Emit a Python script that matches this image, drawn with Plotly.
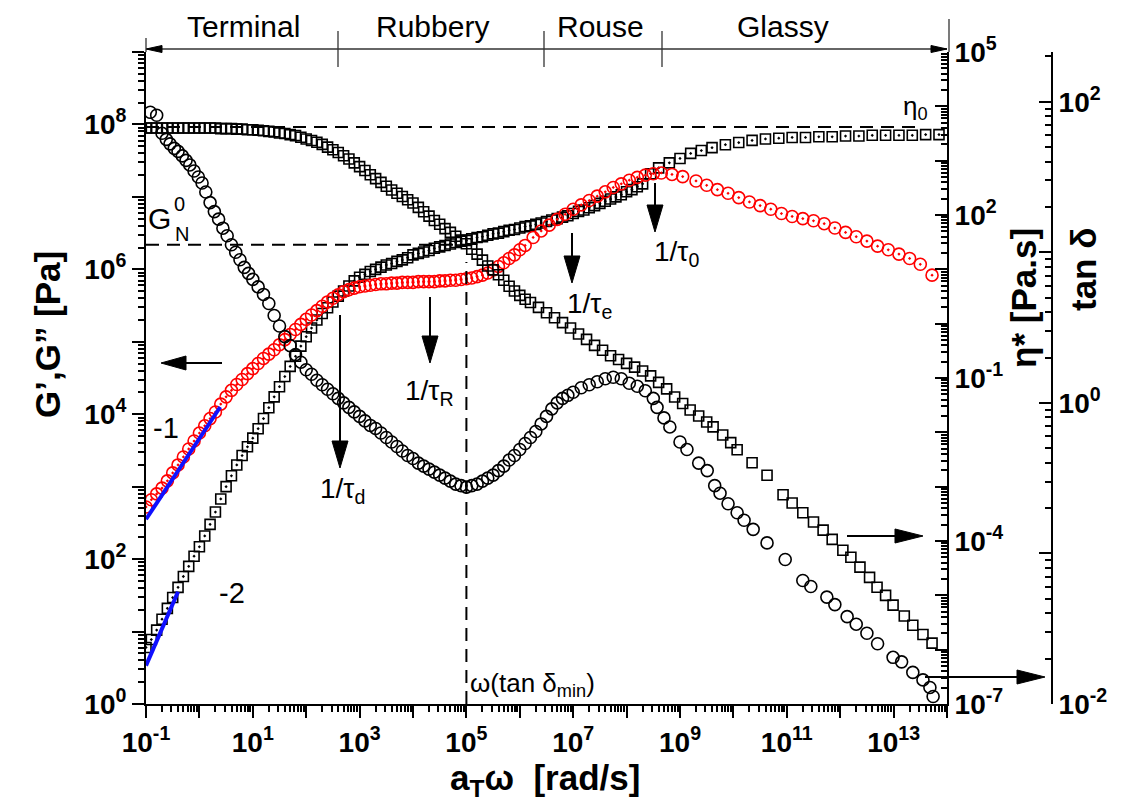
import plotly.graph_objects as go

# ---------------- data (log10 values) ----------------
# G' (storage modulus, open squares with dot) -- left axis
gp_logw = [-1.0,-0.9,-0.8,-0.7,-0.6,-0.5,-0.4,-0.3,-0.2,-0.1,
           0.0,0.1,0.2,0.3,0.4,0.5,0.6,0.7,0.8,0.9,
           1.0,1.1,1.2,1.3,1.4,1.5,1.6,1.7,1.8,1.9,
           2.0,2.1,2.2,2.3,2.4,2.5,2.6,2.7,2.8,2.9,
           3.0,3.1,3.2,3.3,3.4,3.5,3.6,3.7,3.8,3.9,
           4.0,4.1,4.2,4.3,4.4,4.5,4.6,4.7,4.8,4.9,
           5.0,5.1,5.2,5.3,5.4,5.5,5.6,5.7,5.8,5.9,
           6.0,6.1,6.2,6.3,6.4,6.5,6.6,6.7,6.8,6.9,
           7.0,7.1,7.2,7.3,7.4,7.5,7.6,7.7,7.8,7.9,
           8.0,8.1,8.2,8.3,
           8.45,8.6,8.8,9.0,9.2,9.4,9.6,
           9.85,10.1,10.35,10.6,10.85,11.1,11.35,11.6,11.85,12.1,12.35,12.6,12.85,13.1,13.35,13.6,13.85]
gp_logG = [0.78,0.89,1.02,1.17,1.32,1.47,1.61,1.76,1.90,2.04,
           2.17,2.32,2.48,2.65,2.83,3.00,3.15,3.30,3.43,3.55,
           3.67,3.80,3.94,4.09,4.24,4.38,4.52,4.66,4.80,4.94,
           5.07,5.19,5.30,5.39,5.47,5.55,5.63,5.70,5.77,5.84,
           5.89,5.93,5.97,6.00,6.03,6.06,6.08,6.11,6.13,6.16,
           6.20,6.22,6.24,6.26,6.29,6.31,6.33,6.35,6.37,6.39,
           6.40,6.42,6.44,6.45,6.47,6.49,6.50,6.52,6.54,6.55,
           6.57,6.59,6.60,6.62,6.64,6.66,6.68,6.70,6.72,6.74,
           6.77,6.80,6.82,6.85,6.88,6.91,6.94,6.97,7.00,7.03,
           7.07,7.10,7.14,7.18,
           7.32,7.40,7.47,7.53,7.60,7.64,7.68,
           7.72,7.75,7.78,7.80,7.81,7.82,7.82,7.83,7.83,7.84,7.84,7.85,7.85,7.85,7.85,7.86,7.86]

# G'' (loss modulus, red open circles with dot) -- left axis
gpp_logw = [-1.0,-0.9,-0.8,-0.7,-0.6,-0.5,-0.4,-0.3,-0.2,-0.1,
            0.0,0.1,0.2,0.3,0.4,0.5,0.6,0.7,0.8,0.9,
            1.0,1.1,1.2,1.3,1.4,1.5,1.6,1.7,1.8,1.9,
            2.0,2.1,2.2,2.3,2.4,2.5,2.6,2.7,2.8,2.9,
            3.0,3.1,3.2,3.3,3.4,3.5,3.6,3.7,3.8,3.9,
            4.0,4.1,4.2,4.3,4.4,4.5,4.6,4.7,4.8,4.9,
            5.0,5.1,5.2,5.3,5.4,5.5,5.6,5.7,5.8,5.9,
            6.0,6.1,
            6.25,6.4,6.55,6.7,6.85,7.0,7.15,7.3,7.45,7.6,7.75,7.9,8.05,8.2,8.35,8.5,8.65,
            8.85,9.05,9.3,9.5,9.7,9.9,10.1,10.3,10.5,10.7,10.9,11.1,11.3,11.5,11.7,11.9,
            12.1,12.3,12.5,12.7,12.9,13.1,13.3,13.5,13.72]
gpp_logG = [2.72,2.82,2.90,2.98,3.08,3.19,3.30,3.41,3.52,3.63,
            3.74,3.84,3.94,4.03,4.14,4.24,4.33,4.41,4.48,4.56,
            4.63,4.70,4.77,4.83,4.89,4.96,5.03,5.10,5.17,5.24,
            5.31,5.37,5.43,5.49,5.55,5.60,5.65,5.69,5.72,5.74,
            5.76,5.77,5.78,5.79,5.80,5.80,5.81,5.81,5.82,5.82,
            5.82,5.83,5.83,5.83,5.83,5.84,5.84,5.85,5.85,5.86,
            5.87,5.88,5.90,5.92,5.95,5.99,6.04,6.09,6.15,6.20,
            6.27,6.33,
            6.44,6.53,6.61,6.69,6.76,6.83,6.89,6.95,7.01,7.07,7.13,7.18,7.23,7.27,7.30,7.32,7.33,
            7.31,7.28,7.22,7.16,7.10,7.05,6.99,6.93,6.88,6.83,6.77,6.73,6.70,6.67,6.63,6.57,
            6.51,6.45,6.39,6.32,6.27,6.21,6.15,6.07,5.92]

# tan(delta) (black open circles) -- right "tan d" axis
td_logw = [-0.92,-0.80,-0.70,-0.62,-0.55,-0.47,-0.40,-0.32,-0.25,-0.18,-0.10,-0.02,
           0.05,0.12,0.20,0.28,0.36,0.44,0.52,0.60,0.68,0.76,0.84,0.92,
           1.0,1.1,1.2,1.3,1.4,1.5,1.6,1.7,1.8,1.9,
           2.0,2.1,2.2,2.3,2.4,2.5,2.6,2.7,2.8,2.9,
           3.0,3.1,3.2,3.3,3.4,3.5,3.6,3.7,3.8,3.9,
           4.0,4.1,4.2,4.3,4.4,4.5,4.6,4.7,4.8,4.9,
           5.0,5.1,5.2,5.3,5.4,5.5,5.6,5.7,5.8,5.9,
           6.0,6.1,6.2,6.3,6.4,6.5,6.6,6.7,6.8,6.9,
           7.0,7.15,7.3,7.45,7.6,7.75,7.9,8.05,8.2,8.35,8.5,8.57,8.7,8.81,
           9.0,9.13,9.35,9.51,9.65,9.75,9.9,10.07,10.2,10.37,10.63,10.97,
           11.3,11.45,11.75,11.9,12.13,12.3,12.5,12.7,12.99,13.15,13.36,13.55,13.68,13.74]
td_logT = [1.93,1.91,1.79,1.75,1.72,1.69,1.67,1.64,1.61,1.58,1.54,1.50,
           1.46,1.40,1.33,1.27,1.22,1.16,1.11,1.05,1.00,0.95,0.90,0.86,
           0.82,0.77,0.72,0.66,0.58,0.51,0.44,0.38,0.32,0.27,
           0.22,0.19,0.15,0.12,0.09,0.06,0.03,0.00,-0.03,-0.06,
           -0.09,-0.12,-0.15,-0.17,-0.20,-0.23,-0.26,-0.29,-0.32,-0.35,
           -0.37,-0.40,-0.42,-0.44,-0.46,-0.48,-0.50,-0.52,-0.54,-0.55,
           -0.56,-0.55,-0.54,-0.52,-0.50,-0.48,-0.45,-0.42,-0.38,-0.35,
           -0.31,-0.27,-0.23,-0.19,-0.14,-0.09,-0.04,0.00,0.03,0.05,
           0.07,0.10,0.12,0.14,0.16,0.17,0.16,0.13,0.11,0.08,0.03,-0.03,-0.10,-0.16,
           -0.26,-0.31,-0.40,-0.45,-0.55,-0.60,-0.67,-0.73,-0.78,-0.84,-0.93,-1.04,
           -1.18,-1.22,-1.29,-1.34,-1.42,-1.47,-1.53,-1.60,-1.69,-1.72,-1.79,-1.84,-1.89,-1.95]

# complex viscosity eta* (black open squares) -- right "eta*" axis
eta_logw = [-1.0,-0.9,-0.8,-0.7,-0.6,-0.5,-0.4,-0.3,-0.2,-0.1,
            0.0,0.1,0.2,0.3,0.4,0.5,0.6,0.7,0.8,0.9,
            1.0,1.1,1.2,1.3,1.4,1.5,1.6,1.7,1.8,1.9,
            2.0,2.1,2.2,2.3,2.4,2.5,2.6,2.7,2.8,2.9,
            3.0,3.1,3.2,3.3,3.4,3.5,3.6,3.7,3.8,3.9,
            4.0,4.1,4.2,4.3,4.4,4.5,4.6,4.7,4.8,4.9,
            5.0,5.1,5.2,5.3,5.4,5.5,5.6,5.7,5.8,5.9,6.0,6.1,
            6.2,6.35,6.5,6.65,6.8,6.95,7.1,7.25,7.4,7.55,
            7.7,7.85,8.0,8.15,8.3,8.45,8.6,8.75,8.9,9.05,
            9.19,9.35,9.5,9.62,9.8,9.95,10.07,10.35,10.63,10.93,
            11.1,11.3,11.5,11.68,11.85,12.05,12.2,12.37,12.55,12.69,
            12.85,12.99,13.2,13.36,13.55,13.72]
eta_log = [3.60,3.60,3.60,3.60,3.60,3.60,3.60,3.60,3.60,3.60,
           3.60,3.60,3.60,3.60,3.59,3.59,3.59,3.58,3.58,3.57,
           3.57,3.56,3.55,3.54,3.53,3.51,3.50,3.48,3.46,3.43,
           3.40,3.37,3.34,3.30,3.25,3.20,3.15,3.09,3.03,2.96,
           2.89,2.82,2.74,2.67,2.60,2.53,2.46,2.40,2.34,2.28,
           2.22,2.14,2.06,1.98,1.90,1.83,1.75,1.68,1.61,1.54,
           1.47,1.37,1.28,1.17,1.06,0.99,0.90,0.80,0.69,0.60,0.52,0.45,
           0.39,0.30,0.20,0.11,0.02,-0.08,-0.19,-0.29,-0.40,-0.49,
           -0.59,-0.66,-0.73,-0.80,-0.87,-0.96,-1.08,-1.20,-1.35,-1.47,
           -1.59,-1.70,-1.81,-1.90,-2.05,-2.19,-2.32,-2.56,-2.79,-3.15,
           -3.30,-3.48,-3.65,-3.80,-3.97,-4.17,-4.30,-4.48,-4.67,-4.85,
           -5.00,-5.18,-5.38,-5.55,-5.72,-5.88]

# slope guide lines (blue) and reference levels
slope1_logw = [-1.0, 0.39]
slope1_logG = [2.55, 4.10]
slope2_logw = [-1.0, -0.40]
slope2_logG = [0.53, 1.55]
eta0_log = 3.62            # eta_0 plateau (eta* axis)
gn0_log = 6.34             # plateau modulus G_N^0 (left axis)
w_tanmin_log = 5.0         # omega at tan(delta) minimum


def tens(vals):
    return [10 ** v for v in vals]


# ---------------- geometry helpers ----------------
# the page body has an 8px default margin, so the figure is drawn 8px in from the window corner
OFF = 8
W, H = 1124, 800
ML, MT = 146 - OFF, 52 - OFF
PW, PH = 926, 652
MR, MB = W - ML - PW, H - MT - PH


def fx(p):
    """window pixel x -> paper x"""
    return (p - OFF - ML) / PW


def fy(p):
    """window pixel y -> paper y"""
    return (MT + PH - (p - OFF)) / PH


FONT = "Liberation Sans, Arial, sans-serif"

fig = go.Figure()

mk_line = dict(width=1.6)
fig.add_trace(go.Scatter(x=tens(eta_logw), y=tens(eta_log), yaxis="y2", mode="markers",
                         marker=dict(symbol="square-open", size=10, color="black", line=mk_line),
                         showlegend=False, name="eta*"))
fig.add_trace(go.Scatter(x=tens(gp_logw), y=tens(gp_logG), mode="markers",
                         marker=dict(symbol="square-open-dot", size=10, color="black", line=mk_line),
                         showlegend=False, name="G'"))
fig.add_trace(go.Scatter(x=tens(td_logw), y=tens(td_logT), yaxis="y3", mode="markers",
                         marker=dict(symbol="circle-open", size=12, color="black", line=mk_line),
                         showlegend=False, name="tan d"))
fig.add_trace(go.Scatter(x=tens(gpp_logw), y=tens(gpp_logG), mode="markers",
                         marker=dict(symbol="circle-open-dot", size=12, color="red", line=mk_line),
                         showlegend=False, name="G''"))

# blue slope lines
fig.add_trace(go.Scatter(x=tens(slope1_logw), y=tens(slope1_logG), mode="lines",
                         line=dict(color="#1010ff", width=4), showlegend=False))
fig.add_trace(go.Scatter(x=tens(slope2_logw), y=tens(slope2_logG), mode="lines",
                         line=dict(color="#1010ff", width=4), showlegend=False))

# dashed reference lines
dash = "13px,8px"
fig.add_trace(go.Scatter(x=[10 ** -1, 10 ** 13.5], y=[10 ** eta0_log] * 2, yaxis="y2", mode="lines",
                         line=dict(color="black", width=2, dash=dash), showlegend=False))
fig.add_trace(go.Scatter(x=[10 ** -1, 10 ** w_tanmin_log], y=[10 ** gn0_log] * 2, mode="lines",
                         line=dict(color="black", width=2, dash=dash), showlegend=False))
fig.add_trace(go.Scatter(x=[10 ** w_tanmin_log] * 2, y=[1, 10 ** 6.1], mode="lines",
                         line=dict(color="black", width=2, dash=dash), showlegend=False))


# ---------------- axes ----------------
def major(lo, hi, labeled):
    vals = [10 ** k for k in range(lo, hi + 1)]
    txt = ["<b>10<sup>%d</sup></b>" % k if k in labeled else "" for k in range(lo, hi + 1)]
    return vals, txt


def minor_vals(lo, hi, top=None):
    out = []
    for k in range(lo, hi + 1):
        for m in range(2, 10):
            v = m * 10 ** k
            if top is None or v <= top:
                out.append(v)
    return out


tickfont = dict(family=FONT, size=28, color="black")
xv, xt = major(-1, 14, {-1, 1, 3, 5, 7, 9, 11, 13})
yv, yt = major(0, 9, {0, 2, 4, 6, 8})
y2v, y2t = major(-7, 5, {-7, -4, -1, 2, 5})
y3v, y3t = major(-2, 2, {-2, 0, 2})

x_end = fx(947)
common = dict(type="log", showgrid=False, zeroline=False, showline=True, linecolor="black",
              linewidth=2, tickmode="array", ticklen=12, tickwidth=2, tickcolor="black",
              tickfont=tickfont, automargin=False)
fig.update_layout(
    width=W, height=H,
    margin=dict(l=ML, r=MR, t=MT, b=MB, autoexpand=False),
    paper_bgcolor="white", plot_bgcolor="white",
    showlegend=False,
    xaxis=dict(common, range=[-1, 14], domain=[0, x_end],
               tickvals=xv, ticktext=xt, ticks="outside",
               minor=dict(tickmode="array", tickvals=minor_vals(-1, 13), ticks="outside", ticklen=6,
                          tickwidth=1.5, tickcolor="black", showgrid=False)),
    yaxis=dict(common, range=[0, 9],
               tickvals=yv, ticktext=yt, ticks="outside",
               minor=dict(tickmode="array", tickvals=minor_vals(0, 8), ticks="outside", ticklen=6,
                          tickwidth=1.5, tickcolor="black", showgrid=False)),
    yaxis2=dict(common, range=[-7, 5], overlaying="y", side="right", anchor="x",
                tickvals=y2v, ticktext=y2t, ticks="inside",
                minor=dict(tickmode="array", tickvals=minor_vals(-7, 4), ticks="inside", ticklen=6,
                           tickwidth=1.5, tickcolor="black", showgrid=False)),
    yaxis3=dict(common, range=[-2, 2.33], overlaying="y", side="right", anchor="free",
                position=fx(1052),
                tickvals=y3v, ticktext=y3t, ticks="inside",
                minor=dict(tickmode="array", tickvals=minor_vals(-2, 2, top=10 ** 2.33), ticks="inside",
                           ticklen=6, tickwidth=1.5, tickcolor="black", showgrid=False)),
)

shapes = []
annotations = []


def line(x0, y0, x1, y1, width=2, color="black"):
    shapes.append(dict(type="line", xref="paper", yref="paper",
                       x0=fx(x0), y0=fy(y0), x1=fx(x1), y1=fy(y1),
                       line=dict(color=color, width=width)))


def head(tx, ty, direction, length, half):
    if direction == "down":
        pts = [(tx, ty), (tx - half, ty - length), (tx + half, ty - length)]
    elif direction == "left":
        pts = [(tx, ty), (tx + length, ty - half), (tx + length, ty + half)]
    else:  # right
        pts = [(tx, ty), (tx - length, ty - half), (tx - length, ty + half)]
    path = "M %f,%f L %f,%f L %f,%f Z" % tuple(v for p in pts for v in (fx(p[0]), fy(p[1])))
    shapes.append(dict(type="path", xref="paper", yref="paper", path=path,
                       fillcolor="black", line=dict(color="black", width=1)))


def arrow(x0, y0, x1, y1, length=27, half=8, width=2):
    if x0 == x1:
        line(x0, y0, x1, y1 - length + 2, width)
        head(x1, y1, "down", length, half)
    elif x1 < x0:
        line(x0, y0, x1 + length - 2, y1, width)
        head(x1, y1, "left", length, half)
    else:
        line(x0, y0, x1 - length + 2, y1, width)
        head(x1, y1, "right", length, half)


def text(t, x, y, size=26, xanchor="center", yanchor="middle", textangle=0):
    annotations.append(dict(text=t, x=fx(x), y=fy(y), xref="paper", yref="paper", showarrow=False,
                            xanchor=xanchor, yanchor=yanchor, textangle=textangle,
                            font=dict(family=FONT, size=size, color="black")))


# region bar on top
line(146, 49, 947, 49, width=1.3, color="#333333")
head(146, 49, "left", 16, 3.5)
head(947, 49, "right", 16, 3.5)
line(146, 38, 146, 52, width=1.3, color="#333333")
for xd in (338, 544, 662):
    line(xd, 31, xd, 67, width=1.3, color="#333333")
line(949, 19, 949, 52, width=1.3, color="#333333")
text("Terminal", 243, 26, size=30)
text("Rubbery", 432, 26, size=30)
text("Rouse", 600, 26, size=30)
text("Glassy", 783, 26, size=30)

# characteristic-time arrows
arrow(340, 315, 340, 468)
arrow(430, 297, 430, 363)
arrow(572, 233, 572, 283)
arrow(655, 183, 655, 232)
arrow(222, 363, 161, 363, length=25, half=7)
arrow(847, 536, 923, 536, length=28, half=7)
arrow(925, 677, 1045, 677, length=28, half=7)

text("1/τ<sub>d</sub>", 318, 490, size=28, xanchor="left")
text("1/τ<sub>R</sub>", 403, 392, size=28, xanchor="left")
text("1/τ<sub>e</sub>", 565, 305, size=28, xanchor="left")
text("1/τ<sub>0</sub>", 652, 253, size=28, xanchor="left")
text("ω(tan δ<sub>min</sub>)", 468, 684, size=26, xanchor="left")
text("η<sub>0</sub>", 901, 108, size=26, xanchor="left")
text("G", 159, 219, size=30)
text("0", 179, 204, size=20)
text("N", 182, 234, size=20)
text("-1", 166, 428, size=29)
text("-2", 232, 593, size=29)

# axis titles
text("<b>G’,G” [Pa]</b>", 47, 335, size=35, textangle=-90)
text("<b>a<sub>T</sub>ω  [rad/s]</b>", 545, 780, size=35)
text("<b>η* [Pa.s]</b>", 1023, 298, size=35, textangle=-90)
text("<b>tan δ</b>", 1083, 270, size=35, textangle=-90)

fig.update_layout(shapes=shapes, annotations=annotations)
fig.write_html("out.html")
